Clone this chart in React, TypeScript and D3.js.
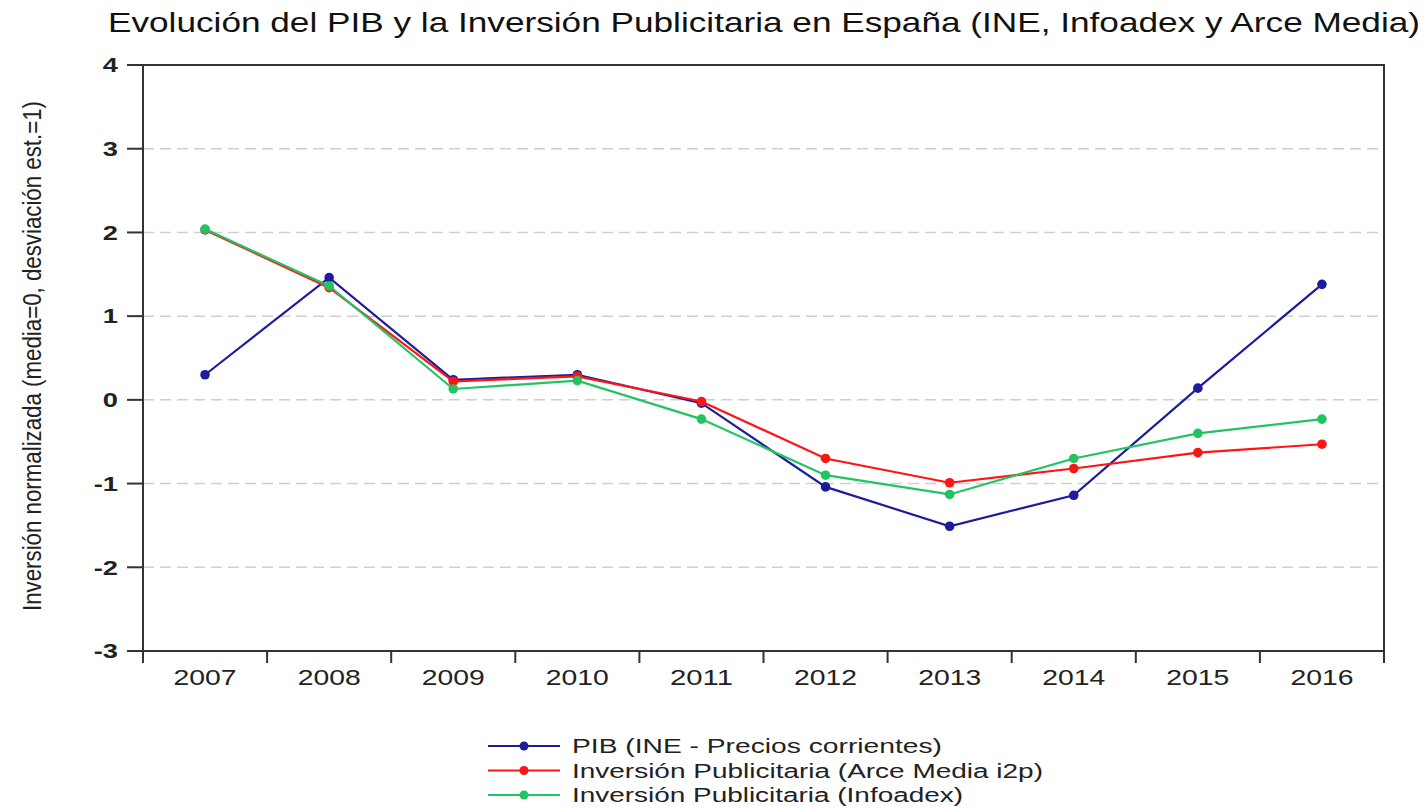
import React from "react";
import * as d3 from "d3";

const years = ["2007", "2008", "2009", "2010", "2011", "2012", "2013", "2014", "2015", "2016"];
const pib = [0.30, 1.46, 0.24, 0.30, -0.04, -1.04, -1.51, -1.14, 0.14, 1.38];
const arce = [2.03, 1.34, 0.22, 0.28, -0.02, -0.70, -0.99, -0.82, -0.63, -0.53];
const infoadex = [2.04, 1.36, 0.13, 0.23, -0.23, -0.90, -1.13, -0.70, -0.40, -0.23];
const yTicks = [4, 3, 2, 1, 0, -1, -2, -3];
const gridTicks = [3, 2, 1, 0, -1, -2];

const seriesNames = [
  "PIB (INE - Precios corrientes)",
  "Inversión Publicitaria (Arce Media i2p)",
  "Inversión Publicitaria (Infoadex)",
];
const seriesColors = ["#1c1c9c", "#ff1414", "#22c462"];
const seriesData = [pib, arce, infoadex];
const legendWidths = [370, 471, 391];

const W = 1427;
const H = 810;
const left = 143;
const right = 1384;
const top = 65;
const bottom = 651;

export default function App() {
  const x = d3.scaleBand<string>().domain(years).range([left, right]).padding(0);
  const y = d3.scaleLinear().domain([-3, 4]).range([bottom, top]);
  const cx = (i: number) => (x(years[i]) as number) + x.bandwidth() / 2;
  const line = d3
    .line<number>()
    .x((_, i) => cx(i))
    .y((d) => y(d));
  const font = "'Liberation Sans', Arial, sans-serif";
  const boundaries = d3.range(years.length + 1).map((i) => left + i * x.bandwidth());

  return (
    <div style={{ position: "absolute", left: 0, top: 0 }}>
      <svg width={W} height={H} style={{ display: "block", background: "#fff" }}>
        <text
          x={108}
          y={32}
          fontFamily={font}
          fontSize={27.5}
          fill="#111"
          textLength={1312}
          lengthAdjust="spacingAndGlyphs"
        >
          Evolución del PIB y la Inversión Publicitaria en España (INE, Infoadex y Arce Media)
        </text>

        {gridTicks.map((t) => (
          <line
            key={"g" + t}
            x1={left}
            x2={right}
            y1={y(t)}
            y2={y(t)}
            stroke="#cfcfcf"
            strokeWidth={1.5}
            strokeDasharray="11,6"
          />
        ))}

        <rect x={left} y={top} width={right - left} height={bottom - top} fill="none" stroke="#333" strokeWidth={2} />
        <line x1={left} x2={left} y1={bottom} y2={bottom + 12} stroke="#333" strokeWidth={2} />
        {boundaries.map((b, i) => (
          <line key={"xt" + i} x1={b} x2={b} y1={bottom} y2={bottom + 12} stroke="#333" strokeWidth={2} />
        ))}
        {yTicks.map((t) => (
          <g key={"yt" + t}>
            <line x1={left - 16} x2={left} y1={y(t)} y2={y(t)} stroke="#333" strokeWidth={2} />
            <text
              transform={`translate(118,${y(t)}) scale(1.3,1)`}
              dy="0.35em"
              textAnchor="end"
              fontFamily={font}
              fontSize={21}
              fontWeight={600}
              fill="#222"
            >
              {t}
            </text>
          </g>
        ))}
        {years.map((yr, i) => (
          <text
            key={"xl" + yr}
            x={cx(i) - 31.5}
            y={685}
            fontFamily={font}
            fontSize={22}
            fill="#222"
            textLength={63}
            lengthAdjust="spacingAndGlyphs"
          >
            {yr}
          </text>
        ))}

        <text
          transform={`translate(41,356) scale(1.25,1) rotate(-90)`}
          textAnchor="middle"
          fontFamily={font}
          fontSize={21}
          fill="#222"
          textLength={510}
          lengthAdjust="spacingAndGlyphs"
        >
          Inversión normalizada (media=0, desviación est.=1)
        </text>

        {seriesData.map((s, k) => (
          <g key={"s" + k}>
            <path d={line(s) as string} fill="none" stroke={seriesColors[k]} strokeWidth={2.2} />
            {s.map((v, i) => (
              <circle key={i} cx={cx(i)} cy={y(v)} r={4.8} fill={seriesColors[k]} />
            ))}
          </g>
        ))}

        {seriesNames.map((n, k) => {
          const ly = 746 + k * 24.5;
          return (
            <g key={"l" + k}>
              <line x1={488} x2={560} y1={ly} y2={ly} stroke={seriesColors[k]} strokeWidth={2.2} />
              <circle cx={524} cy={ly} r={4.5} fill={seriesColors[k]} />
              <text
                x={572}
                y={ly + 7}
                fontFamily={font}
                fontSize={20}
                fill="#222"
                textLength={legendWidths[k]}
                lengthAdjust="spacingAndGlyphs"
              >
                {n}
              </text>
            </g>
          );
        })}
      </svg>
    </div>
  );
}
